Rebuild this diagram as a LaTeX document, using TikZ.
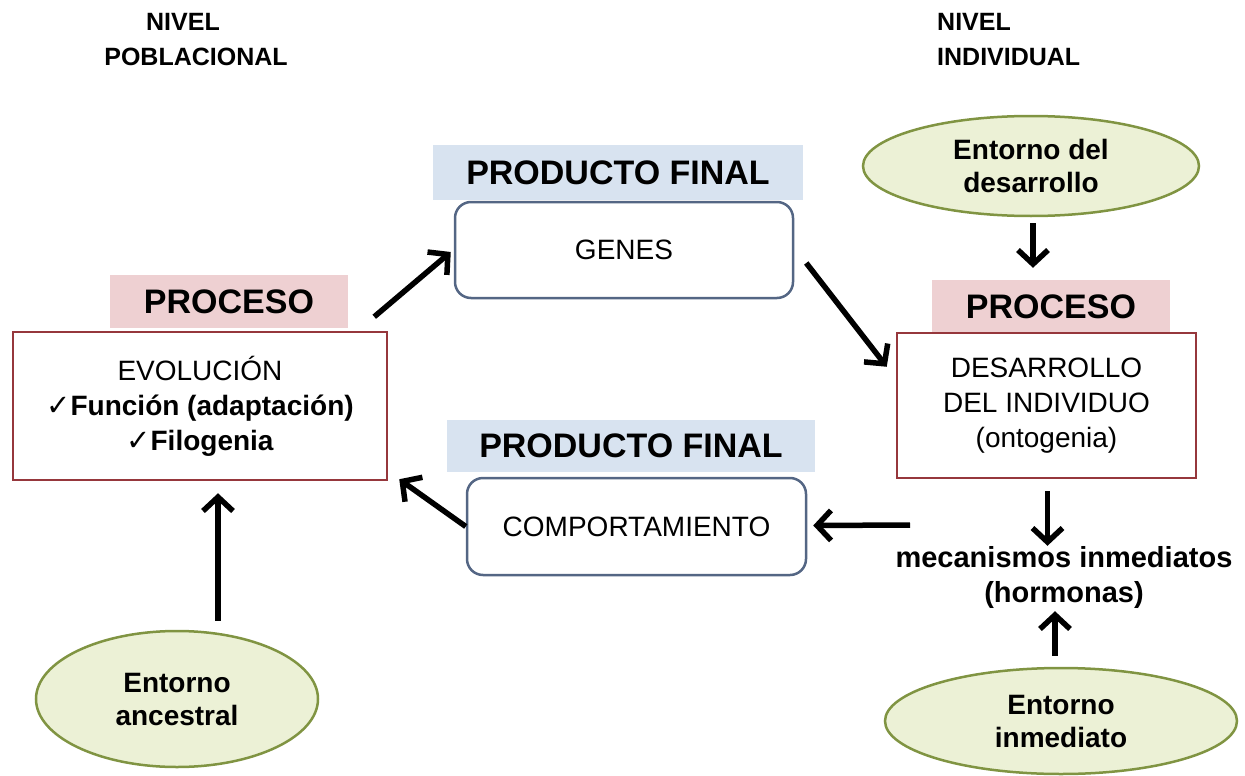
\documentclass[tikz,border=0pt]{standalone}
\usepackage{fontspec}
\setmainfont{Liberation Sans}
\newfontfamily\symfont{DejaVu Sans}
\usetikzlibrary{arrows.meta,shapes.geometric,calc}

\definecolor{procfill}{RGB}{238,208,210}
\definecolor{prodfill}{RGB}{216,227,240}
\definecolor{redline}{RGB}{150,55,60}
\definecolor{blueline}{RGB}{84,102,132}
\definecolor{ellfill}{RGB}{236,241,214}
\definecolor{ellline}{RGB}{128,148,66}

\newcommand{\chk}{{\symfont\mdseries\fontsize{29}{34}\selectfont ✓}}

\begin{document}
\begin{tikzpicture}[x=1pt,y=-1pt,
  hdr/.style={font=\fontsize{25}{35}\selectfont\bfseries, inner sep=0pt},
  tagpro/.style={fill=procfill, inner sep=0pt, font=\fontsize{34}{40}\selectfont\bfseries},
  tagprod/.style={fill=prodfill, inner sep=0pt, font=\fontsize{34}{40}\selectfont\bfseries},
  procbox/.style={draw=redline, line width=2.5pt, fill=white, inner sep=0pt, align=center,
    font=\fontsize{28}{35}\selectfont},
  prodbox/.style={draw=blueline, line width=2.5pt, fill=white, rounded corners=16pt,
    inner sep=0pt, font=\fontsize{28}{34}\selectfont},
  ell/.style={ellipse, draw=ellline, line width=2.5pt, fill=ellfill, inner sep=0pt,
    align=center, font=\fontsize{28}{33}\selectfont\bfseries},
  arr/.style={line width=5.5pt, -{Straight Barb[length=14pt, width=30pt]}}]

\useasboundingbox (0,0) rectangle (1245,776);

% level headings
\node[hdr, align=center] (hL) at (196,40) {NIVEL\hspace*{26pt}\\POBLACIONAL};
\node[hdr, align=left, anchor=west] (hR) at (937,40) {NIVEL\\INDIVIDUAL};

% population level: evolution
\node[tagpro, minimum width=238, minimum height=53] (procL) at (229,301.5) {PROCESO};
\node[procbox, minimum width=374, minimum height=148] (boxEvo) at (200,406)
  {EVOLUCIÓN\\\textbf{\chk Función (adaptación)}\\\textbf{\chk Filogenia}};
\node[ell, minimum width=282, minimum height=136] (eAnc) at (177,699) {Entorno\\ancestral};

% final products
\node[tagprod, minimum width=370, minimum height=55] (pfTop) at (618,172.5) {PRODUCTO FINAL};
\node[prodbox, minimum width=338, minimum height=96] (genes) at (624,250) {GENES};
\node[tagprod, minimum width=368, minimum height=52] (pfBot) at (631,446) {PRODUCTO FINAL};
\node[prodbox, minimum width=339, minimum height=97] (comp) at (636.5,526.5) {COMPORTAMIENTO};

% individual level: development
\node[ell, minimum width=336, minimum height=100] (eDev) at (1031,166) {Entorno del\\desarrollo};
\node[tagpro, minimum width=238, minimum height=53] (procR) at (1051,306.5) {PROCESO};
\node[procbox, minimum width=299, minimum height=145] (boxDev) at (1046.5,405.5)
  {DESARROLLO\\DEL INDIVIDUO\\(ontogenia)};
\node[font=\fontsize{29}{35}\selectfont\bfseries, align=center, inner sep=0pt] (mec)
  at (1064,577) {mecanismos inmediatos\\(hormonas)};
\node[ell, minimum width=352, minimum height=106] (eImm) at (1061,721) {Entorno\\inmediato};

\coordinate (mecIn) at (910,525);

% connectors
\draw[arr] ($(boxEvo.north east)+(-14,-14)$) -- ($(genes.west)+(-3,2)$);
\draw[arr] ($(genes.east)+(12,13)$) -- ($(boxDev.north west)+(-9,35)$);
\draw[arr] ($(eDev.south)+(2,6)$) -- ($(eDev.south |- procR.north)+(2,-12)$);
\draw[arr] ($(boxDev.south)+(1,12)$) -- ($(boxDev.south |- mec.north)+(1,0)$);
\draw[arr] ($(eImm.north)+(-6,-11)$) -- ($(eImm.north |- mec.south)+(-6,3)$);
\draw[arr] (mecIn) -- ($(comp.east)+(6,-1)$);
\draw[arr] (comp.west) -- ($(boxEvo.south east)+(11,-2)$);
\draw[arr] ($(eAnc.north)+(41,-9)$) -- ($(boxEvo.south)+(18,12)$);

\end{tikzpicture}
\end{document}
